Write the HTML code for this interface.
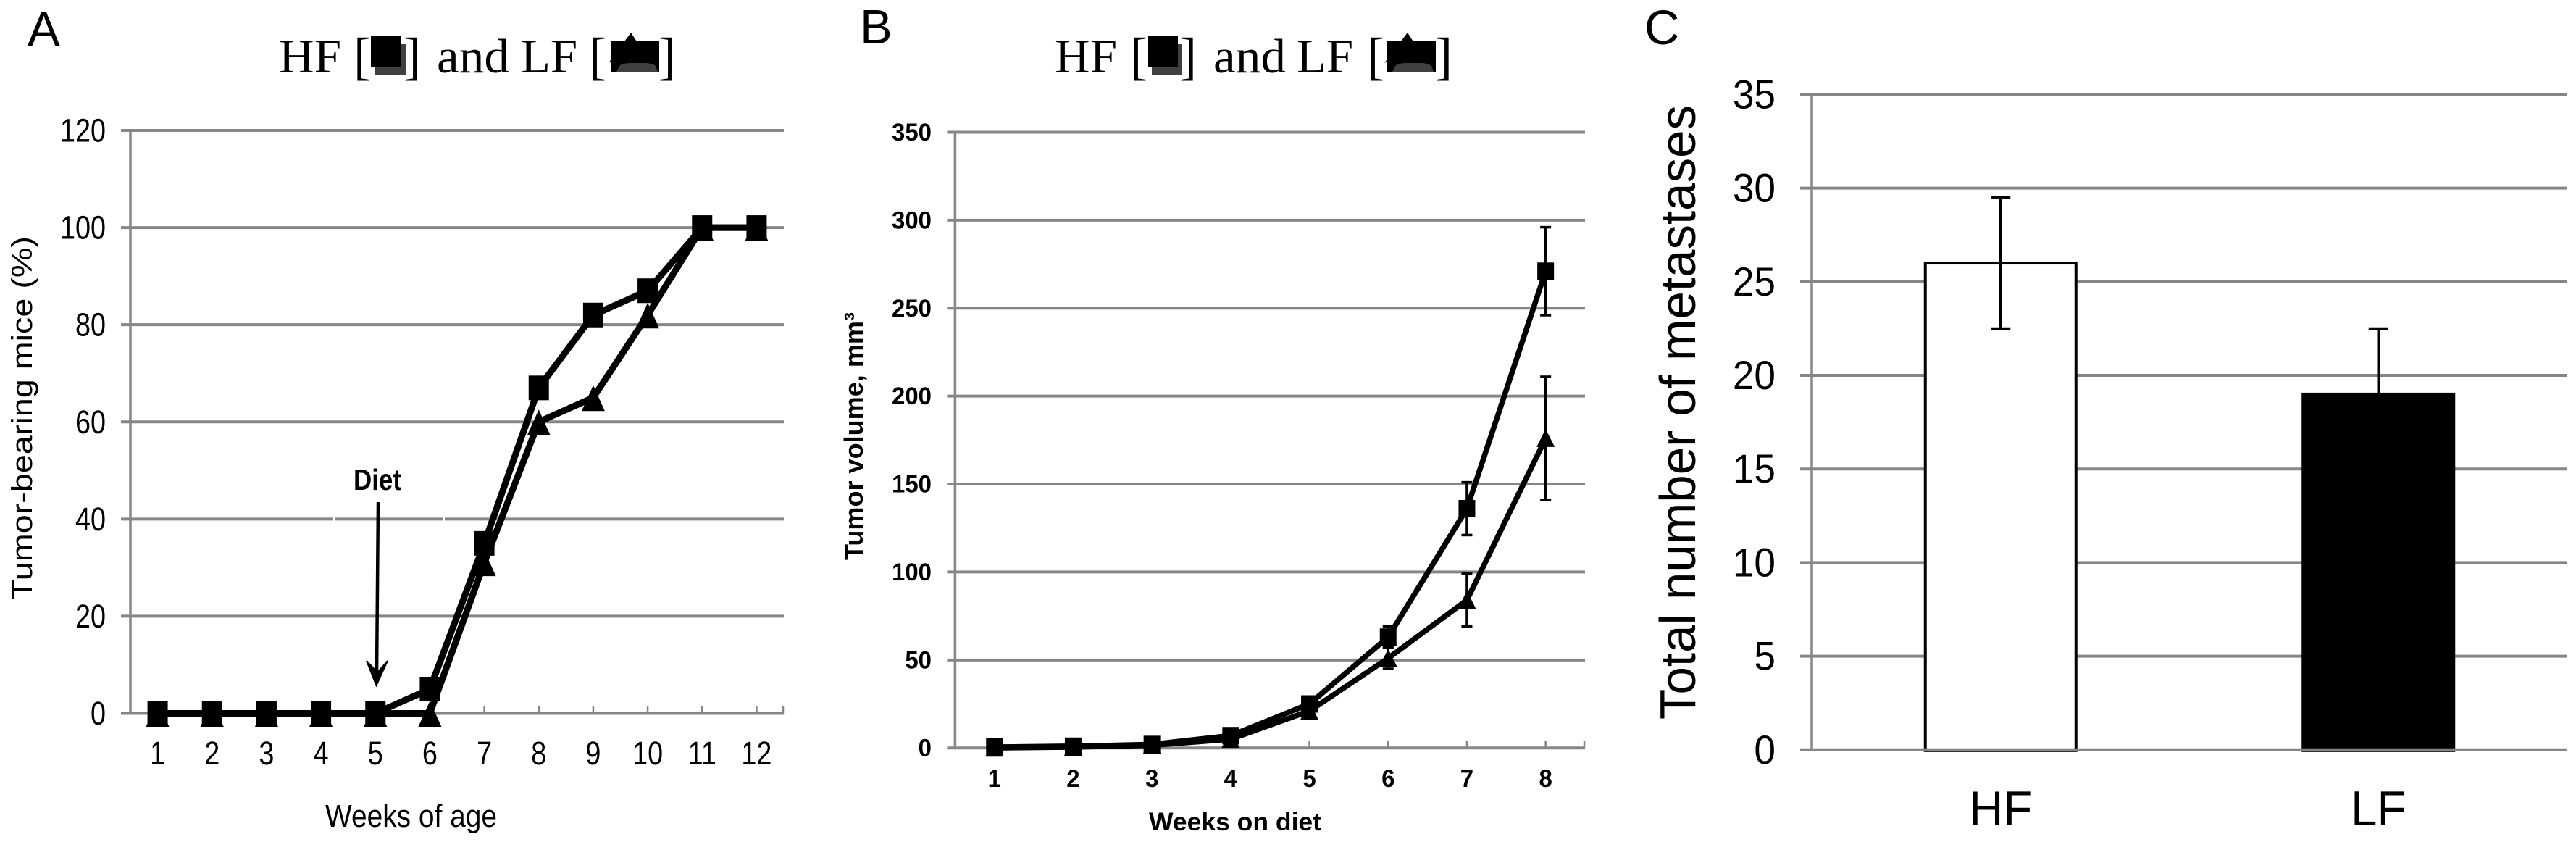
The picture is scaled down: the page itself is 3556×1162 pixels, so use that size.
<!DOCTYPE html>
<html lang="en">
<head>
<meta charset="utf-8">
<title>HF and LF diet tumor charts</title>
<style>
html,body{margin:0;padding:0;background:#fff;width:3556px;height:1162px;overflow:hidden}
svg{display:block}
text{font-family:"Liberation Sans",sans-serif;fill:#000}
.serif{font-family:"Liberation Serif",serif;font-size:67px}
.bracket{font-family:"Liberation Serif",serif;font-size:72px}
.panel{font-size:67px}
</style>
</head>
<body>
<svg id="fig" xmlns="http://www.w3.org/2000/svg" width="3556" height="1162" viewBox="0 0 3556 1162">
  <rect width="3556" height="1162" fill="#fff"/>
  <text class="panel" x="38" y="63">A</text>
  <text class="panel" x="1187" y="60">B</text>
  <text class="panel" x="2270" y="61">C</text>

  <g>
    <text class="serif" x="385" y="100" textLength="86" lengthAdjust="spacingAndGlyphs">HF</text>
    <text class="bracket" x="488" y="102">[</text>
    <rect x="518" y="61" width="43" height="43" fill="#404040"/>
    <rect x="512" y="50" width="42" height="42" fill="#000"/>
    <text class="bracket" x="557" y="102">]</text>
    <text class="serif" x="603" y="100" textLength="100" lengthAdjust="spacingAndGlyphs">and</text>
    <text class="serif" x="719" y="100" textLength="78" lengthAdjust="spacingAndGlyphs">LF</text>
    <text class="bracket" x="813" y="102">[</text>
    <rect x="844" y="56" width="66" height="43" fill="#000"/>
    <path d="M851,99 L855,91 Q860,87 870,87 L890,87 Q900,87 905,91 L908,99 Z" fill="#404040"/>
    <path d="M871,45 L882,62 L850,62 L845,84 L840,87 Z" fill="#000"/>
    <text class="bracket" x="909" y="102">]</text>
  </g>

  <g>
    <text class="serif" x="1456" y="100" textLength="86" lengthAdjust="spacingAndGlyphs">HF</text>
    <text class="bracket" x="1560" y="102">[</text>
    <rect x="1590" y="61" width="42" height="43" fill="#404040"/>
    <rect x="1585" y="50" width="41" height="42" fill="#000"/>
    <text class="bracket" x="1628" y="102">]</text>
    <text class="serif" x="1675" y="100" textLength="100" lengthAdjust="spacingAndGlyphs">and</text>
    <text class="serif" x="1790" y="100" textLength="78" lengthAdjust="spacingAndGlyphs">LF</text>
    <text class="bracket" x="1887" y="102">[</text>
    <rect x="1915" y="56" width="67" height="43" fill="#000"/>
    <path d="M1922,99 L1926,91 Q1931,87 1941,87 L1961,87 Q1971,87 1976,91 L1979,99 Z" fill="#404040"/>
    <path d="M1943,45 L1954,62 L1921,62 L1916,84 L1911,87 Z" fill="#000"/>
    <text class="bracket" x="1981" y="102">]</text>
  </g>

  <g id="chart-a"></g>
  <g id="chart-b"></g>
  <g id="chart-c"></g>

  <text x="44" y="828" transform="rotate(-90 44 828)" font-size="40" textLength="502" lengthAdjust="spacingAndGlyphs">Tumor-bearing mice (%)</text>
  <text x="449" y="1141" font-size="44" textLength="237" lengthAdjust="spacingAndGlyphs">Weeks of age</text>
  <text x="1191" y="773" transform="rotate(-90 1191 773)" font-size="36" font-weight="bold" textLength="342" lengthAdjust="spacingAndGlyphs">Tumor volume, mm³</text>
  <text x="1586" y="1146" font-size="35" font-weight="bold" textLength="238" lengthAdjust="spacingAndGlyphs">Weeks on diet</text>
  <text x="2340" y="993" transform="rotate(-90 2340 993)" font-size="70" textLength="848" lengthAdjust="spacingAndGlyphs">Total number of metastases</text>

  <g>
    <rect x="460" y="712" width="3" height="9" fill="#fff"/>
    <rect x="611" y="712" width="3" height="9" fill="#fff"/>
    <text x="488" y="676" font-size="41" font-weight="bold" textLength="66" lengthAdjust="spacingAndGlyphs">Diet</text>
    <line x1="522" y1="693" x2="520" y2="930" stroke="#000" stroke-width="4.5"/>
    <path d="M506,912 L519.5,946 L535,912 L521,928 Z" fill="#000" stroke="#000" stroke-width="2"/>
  </g>
</svg>
<script>
// Panel A data
const weeksA = [1,2,3,4,5,6,7,8,9,10,11,12];
const hfIncidence = [0,0,0,0,0,5,35,67,82,87,100,100];
const lfIncidence = [0,0,0,0,0,0,31,60,65,82,100,100];
const ticksA = [0,20,40,60,80,100,120];
// Panel B data
const weeksB = [1,2,3,4,5,6,7,8];
const hfVolume = [0.5,1,2,7,25,63,136,271];
const lfVolume = [0,0.5,1.5,5,21,51,84,176];
const hfVolumeErr = [0,0.3,0.5,1.5,3,6,15,25];
const lfVolumeErr = [0,0.2,0.5,1,3,6,15,35];
const ticksB = [0,50,100,150,200,250,300,350];
// Panel C data
const groupsC = ['HF','LF'];
const metastases = [26,19];
const metastasesErr = [3.5,3.5];
const ticksC = [0,5,10,15,20,25,30,35];

const NS = 'http://www.w3.org/2000/svg';
const GREY = '#868686';
function mk(parent, tag) {
  const el = document.createElementNS(NS, tag);
  parent.appendChild(el);
  return el;
}
function set(el, attrs) {
  for (const k in attrs) el.setAttribute(k, attrs[k]);
  return el;
}
function label(parent, str, x, y, size, sx, anchor, weight) {
  const t = mk(parent, 'text');
  set(t, {transform:'translate(' + x + ' ' + y + ') scale(' + sx + ' 1)', 'font-size':size, 'text-anchor':anchor, 'font-weight':weight});
  t.textContent = str;
  return t;
}
function hline(parent, x1, x2, y, w) {
  return set(mk(parent, 'line'), {x1:x1, x2:x2, y1:y, y2:y, stroke:GREY, 'stroke-width':w});
}
function vline(parent, x, y1, y2, w, color) {
  return set(mk(parent, 'line'), {x1:x, x2:x, y1:y1, y2:y2, stroke:color, 'stroke-width':w});
}
function linearY(y0, yTop, top) {
  return v => y0 - (y0 - yTop) * v / top;
}
function bandX(left, right, n) {
  return i => left + (right - left) * (i + 0.5) / n;
}

function lineChart(cfg) {
  const root = document.getElementById(cfg.id);
  const x = bandX(cfg.left, cfg.right, cfg.cats.length);
  const y = linearY(cfg.y0, cfg.yTop, cfg.yticks[cfg.yticks.length - 1]);

  cfg.yticks.forEach(v => {
    const g = hline(root, cfg.left - cfg.tickOut, cfg.right, y(v), 4);
    
    
    const t = label(root, String(v), cfg.labelX, y(v) + cfg.yLabelDy, cfg.ySize, cfg.ySx, 'end', cfg.weight);
    
    
  });
  const axis = vline(root, cfg.left, y(cfg.yticks[cfg.yticks.length - 1]), cfg.y0, 3.5, GREY);
  
  

  cfg.cats.forEach((c, i) => {
    const tk = vline(root, x(i), cfg.y0 - 10, cfg.y0, 2.5, GREY);
    
    
    const t = label(root, String(c), x(i), cfg.xLabelY, cfg.ySize, cfg.ySx, 'middle', cfg.weight);
    
    
  });
  const endTick = vline(root, cfg.right - 1, cfg.y0 - 10, cfg.y0, 2.5, GREY);
  
  

  cfg.series.forEach(s => {
    if (s.err) {
      s.values.forEach((v, i) => {
        if (!s.err[i]) return;
        const eg = mk(root, 'g');
        
        
        const hi = y(v + s.err[i]), lo = y(v - s.err[i]);
        vline(eg, x(i), hi, lo, 3.5, '#000');
        set(mk(eg, 'line'), {x1:x(i) - 7.5, x2:x(i) + 7.5, y1:hi, y2:hi, stroke:'#000', 'stroke-width':3.5});
        set(mk(eg, 'line'), {x1:x(i) - 7.5, x2:x(i) + 7.5, y1:lo, y2:lo, stroke:'#000', 'stroke-width':3.5});
      });
    }
  });

  cfg.series.forEach(s => {
    const pl = mk(root, 'polyline');
    set(pl, {points:s.values.map((v, i) => x(i) + ',' + y(v)).join(' '), fill:'none', stroke:'#000', 'stroke-width':cfg.lineW, 'stroke-linejoin':'round'});
    
    
    s.values.forEach((v, i) => {
      let m;
      if (s.shape === 'square') {
        m = mk(root, 'rect');
        set(m, {x:x(i) - cfg.sqW / 2, y:y(v) - cfg.sqH / 2, width:cfg.sqW, height:cfg.sqH, fill:'#000'});
      } else {
        m = mk(root, 'polygon');
        set(m, {points:x(i) + ',' + (y(v) - cfg.triUp) + ' ' + (x(i) + cfg.triW / 2) + ',' + (y(v) + cfg.triDown) + ' ' + (x(i) - cfg.triW / 2) + ',' + (y(v) + cfg.triDown), fill:'#000'});
      }
      
      
    });
  });
}

lineChart({
  id:'chart-a', key:'a', left:180, right:1082, y0:984.5, yTop:180, tickOut:13,
  cats:weeksA, yticks:ticksA, labelX:146, yLabelDy:15.5, ySize:45, ySx:0.84, weight:'normal', xLabelY:1055,
  lineW:9, sqW:28, sqH:34, triW:32, triUp:17, triDown:18.5,
  series:[
    {name:'lf', shape:'triangle', values:lfIncidence},
    {name:'hf', shape:'square', values:hfIncidence}
  ]
});

lineChart({
  id:'chart-b', key:'b', left:1318.4, right:2188, y0:1032.2, yTop:182.5, tickOut:11,
  cats:weeksB, yticks:ticksB, labelX:1286, yLabelDy:11.5, ySize:34, ySx:0.97, weight:'bold', xLabelY:1086,
  lineW:7.5, sqW:23, sqH:24, triW:25, triUp:13, triDown:12,
  series:[
    {name:'lf', shape:'triangle', values:lfVolume, err:lfVolumeErr},
    {name:'hf', shape:'square', values:hfVolume, err:hfVolumeErr}
  ]
});

(function barChart() {
  const root = document.getElementById('chart-c');
  const left = 2501, right = 3544, y0 = 1034.8, yTop = 130.5;
  const x = bandX(left, right, groupsC.length);
  const y = linearY(y0, yTop, ticksC[ticksC.length - 1]);
  const barW = 208;

  ticksC.forEach(v => {
    if (v === 0) return;
    const g = hline(root, left - 16, right, y(v), 4);
    
    
  });
  ticksC.forEach(v => {
    const t = label(root, String(v), 2451, y(v) + 19, 56, 0.95, 'end', 'normal');
    
    
  });
  const axis = vline(root, left, yTop, y0, 3.5, GREY);
  
  

  groupsC.forEach((c, i) => {
    const r = mk(root, 'rect');
    set(r, {x:x(i) - barW / 2, y:y(metastases[i]), width:barW, height:y0 + 1 - y(metastases[i]), fill:i === 0 ? '#fff' : '#000', stroke:'#000', 'stroke-width':4});
    
    
    const t = label(root, c, x(i), 1139, 68, 0.96, 'middle', 'normal');
    
    
  });
  const zero = hline(root, left - 16, right, y(0), 4);
  
  

  groupsC.forEach((c, i) => {
    const eg = mk(root, 'g');
    
    
    const hi = y(metastases[i] + metastasesErr[i]), lo = y(metastases[i] - metastasesErr[i]);
    vline(eg, x(i), hi, lo, 3.5, '#000');
    set(mk(eg, 'line'), {x1:x(i) - 13.5, x2:x(i) + 13.5, y1:hi, y2:hi, stroke:'#000', 'stroke-width':3.5});
    set(mk(eg, 'line'), {x1:x(i) - 13.5, x2:x(i) + 13.5, y1:lo, y2:lo, stroke:'#000', 'stroke-width':3.5});
  });
})();
</script>
</body>
</html>
